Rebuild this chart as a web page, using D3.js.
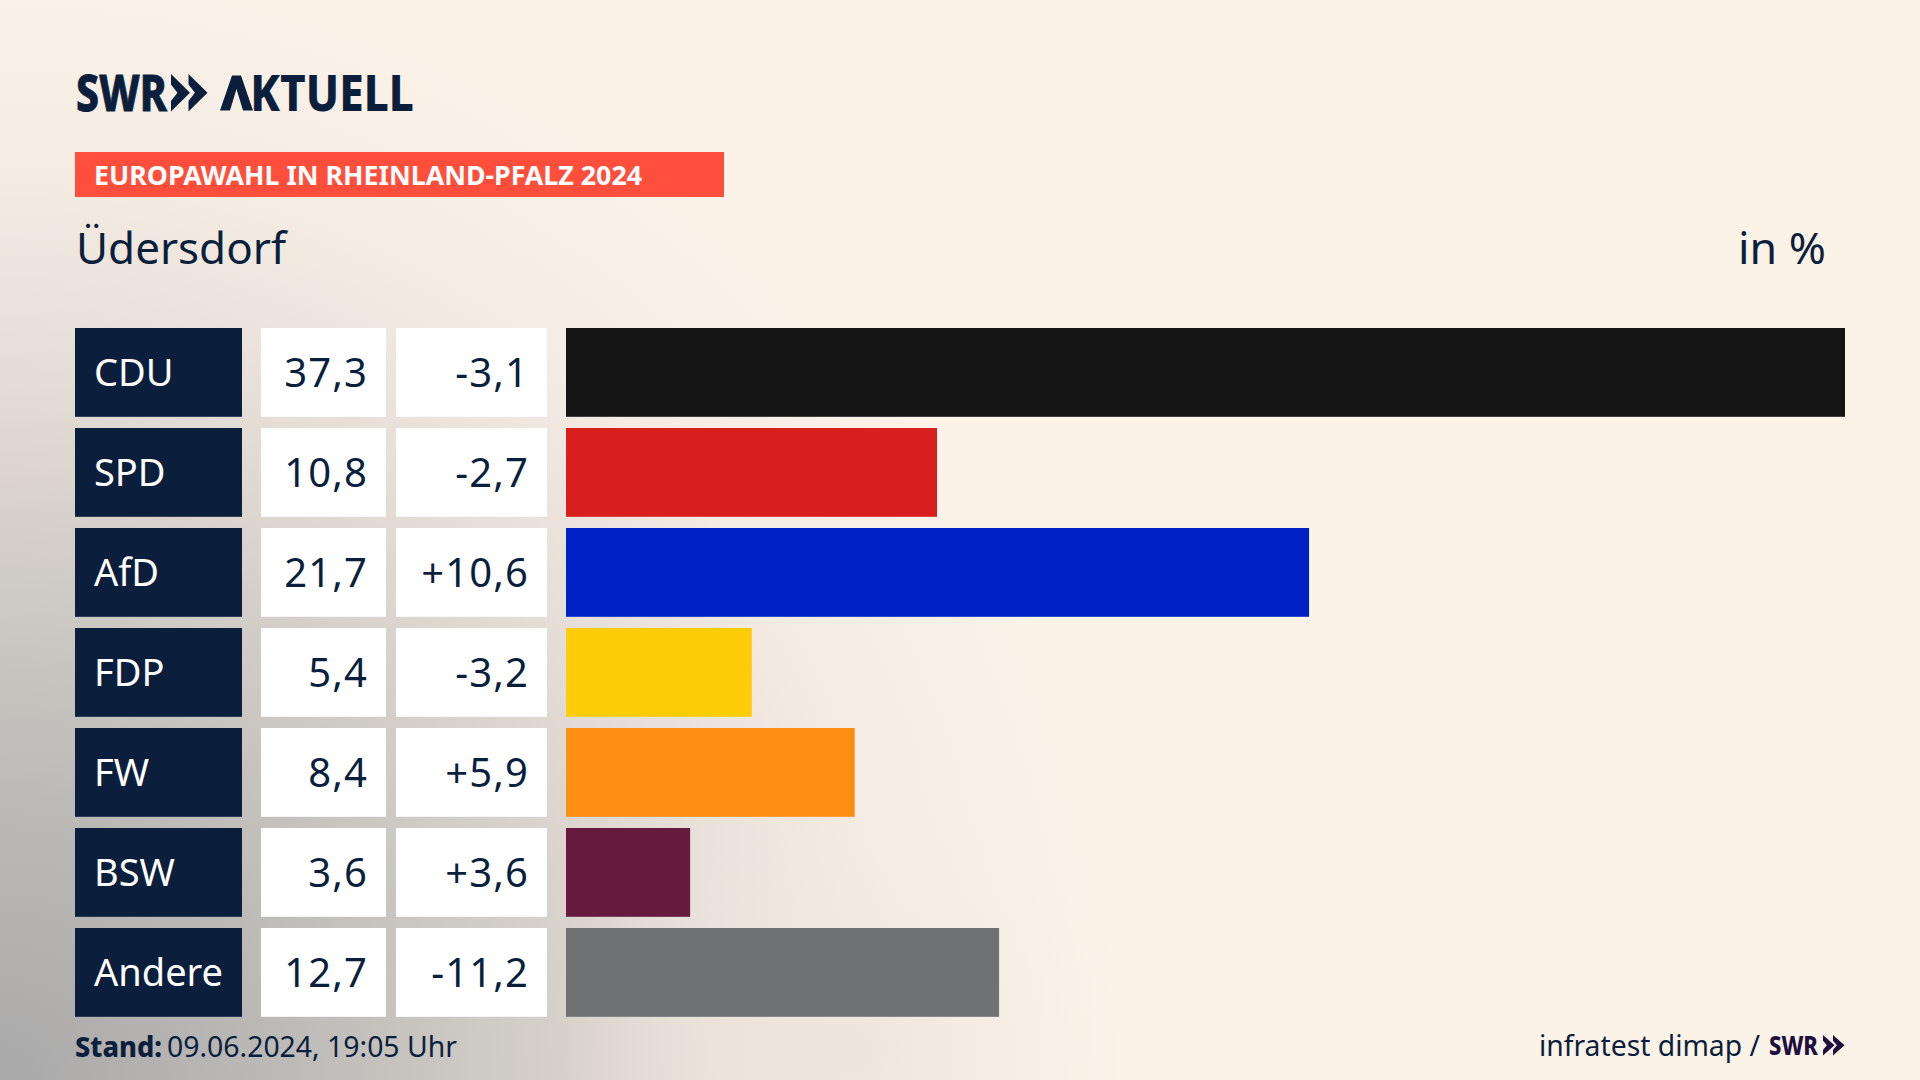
<!DOCTYPE html>
<html lang="de"><head><meta charset="utf-8">
<script src="https://cdn.jsdelivr.net/npm/d3@7"></script>
<style>
html,body{margin:0;padding:0;width:1920px;height:1080px;overflow:hidden;background:#fbf3e8}
svg{display:block;position:absolute;left:0;top:0}
text{font-family:"Noto Sans",Lato,sans-serif}
</style></head><body><svg id="c" width="1920" height="1080"></svg>
<script>
const parties=["CDU","SPD","AfD","FDP","FW","BSW","Andere"];
const shares=[37.3,10.8,21.7,5.4,8.4,3.6,12.7];
const changes=[-3.1,-2.7,10.6,-3.2,5.9,3.6,-11.2];
const barLengths=[37.3,10.82,21.67,5.42,8.42,3.62,12.63];
const colors=["#141414","#d81f1e","#0021c6","#ffcc0a","#ff8f14","#661a3e","#707173"];
const navy="#0b1f3d";
const svg=d3.select("#c");
const defs=svg.append("defs");
function rad(id,cx,cy,r,stops){
  const g=defs.append("radialGradient").attr("id",id).attr("gradientUnits","userSpaceOnUse")
    .attr("cx",cx).attr("cy",cy).attr("r",r);
  stops.forEach(s=>g.append("stop").attr("offset",s[0]).attr("stop-color",s[1]).attr("stop-opacity",s[2]));
}
rad("g1",0,1080,1130,[[0,"#a9a9a9",1],[0.25,"#bcbab7",1],[0.45,"#d0ccc6",1],[0.62,"#e4ddd5",1],[0.8,"#f4ece3",1],[1,"#fbf3e8",1]]);
rad("g2",860,1050,300,[[0,"#ece3d9",0.7],[1,"#fbf3e8",0]]);
svg.append("rect").attr("width",1920).attr("height",1080).attr("fill","url(#g1)");
svg.append("rect").attr("width",1920).attr("height",1080).attr("fill","url(#g2)");

const x=d3.scaleLinear().domain([0,37.3]).range([566,1845]);
const y=d3.scaleBand().domain(parties).range([328,1016.8]).paddingInner(0.112).paddingOuter(0);
const loc=d3.formatLocale({decimal:",",thousands:".",grouping:[3],currency:["","€"]});
const fv=loc.format(".1f"), fd=loc.format("+.1f");
const fmtD=v=>fd(v).replace("−","-");

function fit(t,x0,base,size,weight,len,fill){
  return svg.append("text").attr("x",x0).attr("y",base).attr("font-size",size).attr("font-weight",weight)
    .attr("fill",fill).attr("textLength",len).attr("lengthAdjust","spacingAndGlyphs").text(t);
}
function chev(x0,y0,w,h,off,fill){
  const g=svg.append("g").attr("fill",fill);
  [0,off].forEach(dx=>{
    g.append("path").attr("d",d3.line()([[x0+dx,y0],[x0+dx+w,y0+h/2],[x0+dx,y0+h],[x0+dx,y0+h*.72],[x0+dx+w*.34,y0+h/2],[x0+dx,y0+h*.28]])+"Z");
  });
}
// logo
fit("SWR",76,110.5,49,800,91,navy).attr("stroke",navy).attr("stroke-width",0.8);
chev(171,74,19,37.5,17.5,navy);
const ak=svg.append("text").attr("x",219).attr("y",110.5).attr("font-size",49).attr("font-weight",800)
  .attr("fill",navy).attr("textLength",195).attr("lengthAdjust","spacingAndGlyphs");
ak.append("tspan").attr("fill-opacity",0).text("A");
ak.append("tspan").text("KTUELL");
svg.append("path").attr("fill",navy).attr("d",d3.line()([[220,110.5],[232,75.5],[241,75.5],[253,110.5],[243,110.5],[236.5,89],[230,110.5]])+"Z");
// header
svg.append("rect").attr("x",75).attr("y",152).attr("width",649).attr("height",45).attr("fill","#ff4f3c");
fit("EUROPAWAHL IN RHEINLAND-PFALZ 2024",94,185,27,700,548,"#fff");
fit("Üdersdorf",76,264,44,400,210,navy);
fit("in %",1738,264,44,400,88,navy);

const rows=svg.selectAll("g.row").data(parties).join("g").attr("class","row");
rows.append("rect").attr("x",75).attr("y",d=>y(d)).attr("width",167).attr("height",y.bandwidth()).attr("fill",navy);
rows.append("rect").attr("x",261).attr("y",d=>y(d)).attr("width",125).attr("height",y.bandwidth()).attr("fill","#fff");
rows.append("rect").attr("x",396).attr("y",d=>y(d)).attr("width",151).attr("height",y.bandwidth()).attr("fill","#fff");
rows.append("rect").attr("x",x(0)).attr("y",d=>y(d)).attr("width",(d,i)=>x(barLengths[i])-x(0)).attr("height",y.bandwidth()).attr("fill",(d,i)=>colors[i]);
rows.append("text").attr("x",94).attr("y",d=>y(d)+58).attr("font-size",38).attr("fill","#fff").text(d=>d);
rows.append("text").attr("x",368).attr("y",d=>y(d)+58.6).attr("font-size",40).attr("letter-spacing",1.1).attr("fill",navy).attr("text-anchor","end").text((d,i)=>fv(shares[i]));
rows.append("text").attr("x",529).attr("y",d=>y(d)+58.6).attr("font-size",40).attr("letter-spacing",1.1).attr("fill",navy).attr("text-anchor","end").text((d,i)=>fmtD(changes[i]));
// footer
fit("Stand:",75,1057,29,800,87,navy);
fit("09.06.2024, 19:05 Uhr",167,1057,29,400,290,navy);
fit("infratest dimap /",1539,1056,29,400,221,navy);
fit("SWR",1769,1055,27,800,49,"#1f0f3f");
chev(1823,1035,11.5,20.5,10,"#1f0f3f");
</script></body></html>
